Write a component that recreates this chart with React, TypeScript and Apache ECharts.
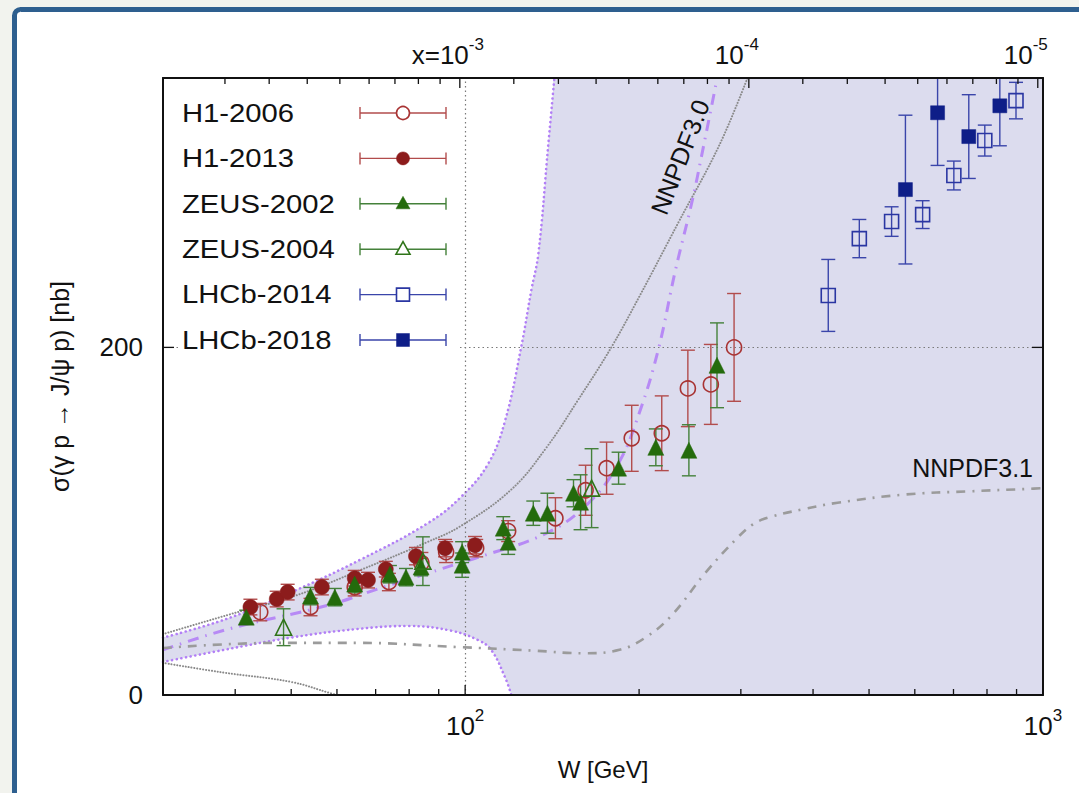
import React, { useEffect, useRef } from 'react';
import * as echarts from 'echarts';

// ---------------- data ----------------
const h1_2006_W = [44.2, 54.0, 64.4, 73.8, 84.0, 92.7, 104.5, 118.7, 143.3, 161.6, 175.7, 194.2, 218.9, 242.9, 266.2, 292.0];
const h1_2006_sigma = [47.7, 50.6, 62.0, 65.0, 76.0, 82.2, 84.5, 94.3, 101.7, 117.8, 130.5, 147.7, 150.6, 176.4, 178.7, 200.0];
const h1_2006_err = [5, 5, 5, 5, 6, 6, 5, 6, 11.8, 14.4, 15, 19, 21.5, 22, 23, 31];

const h1_2013_W = [42.5, 47.2, 49.3, 56.5, 64.4, 67.9, 72.9, 82.2, 92.3, 104.0];
const h1_2013_sigma = [50.6, 55.2, 59.2, 62.1, 67.2, 66.1, 72.4, 79.9, 84.5, 86.2];
const h1_2013_err = [4.5, 4.5, 4.5, 4.5, 4.5, 4.5, 4.5, 5, 5, 5];

const zeus_2002_W = [41.8, 54.0, 59.5, 64.4, 74.1, 79.0, 83.9, 98.8, 98.8, 116.4, 118.7, 131.2, 138.8, 154.0, 158.4, 184.3, 213.8, 243.9, 272.8];
const zeus_2002_sigma = [44.8, 56.9, 56.3, 63.8, 69.5, 67.8, 73.6, 82.2, 74.7, 96.0, 87.9, 104.6, 104.6, 116.1, 110.9, 130.5, 142.5, 140.8, 189.7];
const zeus_2002_err = [4, 5, 5, 5, 5, 5, 5, 6, 7, 6.6, 7, 7, 11.5, 7.8, 15.8, 9.2, 10.6, 14.7, 24.4];

const zeus_2004_W = [48.5, 84.5, 165.5];
const zeus_2004_sigma = [39.0, 77.0, 119.0];
const zeus_2004_err = [10.6, 14.0, 22.7];

const lhcb_2014_W = [425, 481, 547, 619, 701, 793, 898];
const lhcb_2014_sigma = [229.9, 262.6, 272.4, 276.4, 298.9, 319.0, 342.0];
const lhcb_2014_err = [20.7, 11.0, 8.5, 8.0, 8.3, 8.9, 10.5];

const lhcb_2018_W = [578, 657, 744, 842];
const lhcb_2018_sigma = [290.8, 335.0, 321.3, 339.0];
const lhcb_2018_err = [42.8, 30.3, 24.1, 23.0];

// NNPDF3.0 band and central curve
const nnpdf30Upper_W = [30, 38.8, 50.7, 66, 86.3, 98.4, 109.6, 117.3, 125, 130.2, 133.9, 139.3, 142.7];
const nnpdf30Upper_sigma = [33, 44, 60, 78, 99, 114, 133, 158, 200, 233, 254, 317, 355];
const nnpdf30Lower_W = [30, 38.3, 49.9, 65.2, 79.6, 94.6, 105.3, 110.9, 117.3, 120.2];
const nnpdf30Lower_sigma = [19, 26, 33, 38, 39.7, 37, 31.6, 26, 10, 0];
const nnpdf30Central_W = [30, 39, 58, 70.6, 86, 98, 105, 138, 163, 184, 200, 216, 231, 247, 259, 273];
const nnpdf30Central_sigma = [26, 38, 51.7, 61, 70, 76, 79, 93, 110, 133, 162, 199, 244, 284, 317, 355];

// NNPDF3.1 band edges and central curve
const nnpdf31Upper_W = [30, 38.8, 50.7, 66, 86, 98, 120, 138, 157, 179, 200, 234, 275, 308];
const nnpdf31Upper_sigma = [35, 46, 57, 72, 88, 97, 118, 142, 170, 200, 229, 272, 316, 355];
const nnpdf31Lower_W = [30, 38, 50, 58.5, 60];
const nnpdf31Lower_sigma = [18.5, 13, 7.5, 1, 0];
const nnpdf31Central_W = [30, 47, 65, 97, 132, 160, 185, 205, 228, 260, 297, 316, 338, 386, 441, 574, 747, 946, 1000];
const nnpdf31Central_sigma = [27, 30, 30, 27.6, 25.5, 24, 26, 33, 46, 70, 91, 98.5, 102.5, 107, 110.6, 115.3, 117.2, 118.6, 119];

// axes
const X_MIN = 30;
const X_MAX = 1000;
const Y_MIN = 0;
const Y_MAX = 355;
const bottomMajorTicks = [100, 1000];
const bottomMinorTicks = [40, 50, 60, 70, 80, 90, 200, 300, 400, 500, 600, 700, 800, 900];
const topMajorTicks = [97.9, 309.7, 979.4];
const topMinorTicks = [38.4, 45.8, 53.3, 60.7, 68.2, 75.6, 83.0, 90.5, 121.4, 145, 168.5, 192, 215.5, 239, 262.6, 286.2, 384, 458.5, 533, 607, 682, 756, 830.6, 905];
const topTickLabelBase = ['x=10', '10', '10'];
const topTickLabelExp = ['-3', '-4', '-5'];
const yMajorTicks = [0, 200];

// ---------------- styles ----------------
const FONT = '"Liberation Sans", Arial, Helvetica, sans-serif';
const INK = '#111111';
const COL = {
  h1Filled: '#8c1c1c',
  h1Open: '#a83333',
  h1Bar: '#b24c4c',
  zeusFilled: '#246b0c',
  zeusOpen: '#2f7418',
  zeusBar: '#44813a',
  lhcbOpen: '#2a36a2',
  lhcbFilled: '#0e1e88',
  lhcbBar: '#3a45aa',
  band: '#dcdcee',
  bandEdge: '#b27ff6',
  central30: '#b78af5',
  gray31: '#9b9b9b',
  gray31dot: '#8a8a8a',
  grid: '#7a7a7a',
};
const SMOOTH = 0.4;

const datasets = [
  { name: 'H1-2006', W: h1_2006_W, S: h1_2006_sigma, E: h1_2006_err, symbol: 'circle', size: 15, filled: false, color: COL.h1Open, bar: COL.h1Bar },
  { name: 'H1-2013', W: h1_2013_W, S: h1_2013_sigma, E: h1_2013_err, symbol: 'circle', size: 15, filled: true, color: COL.h1Filled, bar: COL.h1Bar },
  { name: 'ZEUS-2002', W: zeus_2002_W, S: zeus_2002_sigma, E: zeus_2002_err, symbol: 'triangle', size: 16, filled: true, color: COL.zeusFilled, bar: COL.zeusBar },
  { name: 'ZEUS-2004', W: zeus_2004_W, S: zeus_2004_sigma, E: zeus_2004_err, symbol: 'triangle', size: 16, filled: false, color: COL.zeusOpen, bar: COL.zeusBar },
  { name: 'LHCb-2014', W: lhcb_2014_W, S: lhcb_2014_sigma, E: lhcb_2014_err, symbol: 'rect', size: 14, filled: false, color: COL.lhcbOpen, bar: COL.lhcbBar },
  { name: 'LHCb-2018', W: lhcb_2018_W, S: lhcb_2018_sigma, E: lhcb_2018_err, symbol: 'rect', size: 14, filled: true, color: COL.lhcbFilled, bar: COL.lhcbBar },
];

const zip = (a: number[], b: number[]) => a.map((v, i) => [v, b[i]]);

const supRich = {
  b: { fontSize: 26, fontFamily: FONT, color: INK, fill: INK, lineHeight: 32, verticalAlign: 'bottom' },
  s: { fontSize: 17, fontFamily: FONT, color: INK, fill: INK, verticalAlign: 'top' },
};

function lineSeries(name: string, W: number[], S: number[], color: string, width: number, dash: any, cap: string, z: number, extra: any = {}) {
  return {
    type: 'line',
    name,
    data: zip(W, S),
    smooth: SMOOTH,
    showSymbol: false,
    symbol: 'none',
    silent: true,
    z,
    lineStyle: { color, width, type: dash, cap },
    ...extra,
  };
}

function buildOption() {
  const series: any[] = [];

  // band fill (lavender under upper edge, full height beyond it, white under lower edge)
  series.push({
    type: 'line', name: 'NNPDF3.0 band', data: zip(nnpdf30Upper_W, nnpdf30Upper_sigma), smooth: SMOOTH,
    showSymbol: false, symbol: 'none', silent: true, z: 1,
    lineStyle: { width: 0, color: COL.band }, areaStyle: { color: COL.band, opacity: 1, origin: 'start' },
  });
  // slight overlap (0.5%) with the curve fill so no anti-aliasing seam shows
  series.push({
    type: 'line', name: 'NNPDF3.0 band top', data: [[nnpdf30Upper_W[nnpdf30Upper_W.length - 1] * 0.995, Y_MAX], [X_MAX, Y_MAX]],
    showSymbol: false, symbol: 'none', silent: true, z: 1,
    lineStyle: { width: 0, color: COL.band }, areaStyle: { color: COL.band, opacity: 1, origin: 'start' },
  });
  series.push({
    type: 'line', name: 'NNPDF3.0 band low', data: zip(nnpdf30Lower_W, nnpdf30Lower_sigma), smooth: SMOOTH,
    showSymbol: false, symbol: 'none', silent: true, z: 2,
    lineStyle: { width: 0, color: '#ffffff' }, areaStyle: { color: '#ffffff', opacity: 1, origin: 'start' },
  });

  // band edges
  series.push(lineSeries('NNPDF3.0 upper', nnpdf30Upper_W, nnpdf30Upper_sigma, COL.bandEdge, 2.6, [0.1, 4.6], 'round', 3));
  series.push(lineSeries('NNPDF3.0 lower', nnpdf30Lower_W, nnpdf30Lower_sigma, COL.bandEdge, 2.6, [0.1, 4.6], 'round', 3));
  series.push(lineSeries('NNPDF3.1 upper', nnpdf31Upper_W, nnpdf31Upper_sigma, COL.gray31dot, 2, [0.1, 2.8], 'round', 3));
  series.push(lineSeries('NNPDF3.1 lower', nnpdf31Lower_W, nnpdf31Lower_sigma, COL.gray31dot, 2, [0.1, 2.8], 'round', 3));

  // central curves
  series.push(lineSeries('NNPDF3.0', nnpdf30Central_W, nnpdf30Central_sigma, COL.central30, 3, [11, 7, 1.5, 7], 'butt', 4));
  series.push(lineSeries('NNPDF3.1', nnpdf31Central_W, nnpdf31Central_sigma, COL.gray31, 2.6, [9, 7, 2, 7], 'butt', 4, {
    markLine: {
      silent: true,
      symbol: ['none', 'none'],
      label: { show: false },
      lineStyle: { color: COL.grid, width: 1.2, type: [1.5, 3] },
      data: [{ xAxis: bottomMajorTicks[0] }, { yAxis: yMajorTicks[1] }],
    },
  }));

  // error bars
  datasets.forEach((d) => {
    series.push({
      type: 'custom',
      name: d.name + ' errors',
      clip: true,
      silent: true,
      z: 5,
      data: d.W.map((w, i) => [w, d.S[i], d.E[i]]),
      renderItem: (params: any, api: any) => {
        const w = api.value(0);
        const s = api.value(1);
        const e = api.value(2);
        const hi = api.coord([w, s + e]);
        const lo = api.coord([w, Math.max(s - e, Y_MIN)]);
        const cw = 7;
        const st = { stroke: d.bar, lineWidth: 1.4, fill: 'none' };
        return {
          type: 'group',
          children: [
            { type: 'line', shape: { x1: hi[0], y1: hi[1], x2: lo[0], y2: lo[1] }, style: st },
            { type: 'line', shape: { x1: hi[0] - cw, y1: hi[1], x2: hi[0] + cw, y2: hi[1] }, style: st },
            { type: 'line', shape: { x1: lo[0] - cw, y1: lo[1], x2: lo[0] + cw, y2: lo[1] }, style: st },
          ],
        };
      },
    });
  });

  // markers
  datasets.forEach((d) => {
    series.push({
      type: 'scatter',
      name: d.name,
      data: zip(d.W, d.S),
      symbol: d.symbol,
      symbolSize: d.size,
      silent: true,
      z: 6,
      itemStyle: {
        color: d.filled ? d.color : 'rgba(0,0,0,0)',
        borderColor: d.color,
        borderWidth: d.filled ? 0.5 : 1.6,
        opacity: 1,
      },
    });
  });

  // axis ticks (x bottom & top)
  const tickData: number[][] = [
    ...bottomMajorTicks.map((w) => [w, Y_MIN, 0]),
    ...bottomMinorTicks.map((w) => [w, Y_MIN, 1]),
    ...topMajorTicks.map((w) => [w, Y_MAX, 2]),
    ...topMinorTicks.map((w) => [w, Y_MAX, 3]),
  ];
  series.push({
    type: 'custom', name: 'xticks', silent: true, clip: false, z: 21,
    data: tickData,
    renderItem: (params: any, api: any) => {
      const w = api.value(0);
      const kind = api.value(2);
      const st = { stroke: INK, lineWidth: 1.3 };
      if (kind < 2) {
        const p = api.coord([w, Y_MIN]);
        const len = kind === 0 ? 10 : 6;
        return { type: 'line', shape: { x1: p[0], y1: p[1], x2: p[0], y2: p[1] - len }, style: st };
      }
      const p = api.coord([w, Y_MAX]);
      const len = kind === 2 ? 10 : 6;
      return { type: 'line', shape: { x1: p[0], y1: p[1], x2: p[0], y2: p[1] + len }, style: st };
    },
  });

  // y ticks (left & right)
  series.push({
    type: 'custom', name: 'yticks', silent: true, clip: false, z: 21,
    data: yMajorTicks.map((v) => [X_MIN, v]),
    renderItem: (params: any, api: any) => {
      const v = api.value(1);
      const l = api.coord([X_MIN, v]);
      const r = api.coord([X_MAX, v]);
      const st = { stroke: INK, lineWidth: 1.3 };
      return {
        type: 'group',
        children: [
          { type: 'line', shape: { x1: l[0], y1: l[1], x2: l[0] + 11, y2: l[1] }, style: st },
          { type: 'line', shape: { x1: r[0], y1: r[1], x2: r[0] - 11, y2: r[1] }, style: st },
        ],
      };
    },
  });

  // top axis labels (x = 10^-n)
  series.push({
    type: 'custom', name: 'x2labels', silent: true, clip: false, z: 21,
    data: topMajorTicks.map((w, i) => [w, Y_MAX, i]),
    renderItem: (params: any, api: any) => {
      const w = api.value(0);
      const i = api.value(2);
      const p = api.coord([w, Y_MAX]);
      return {
        type: 'text',
        x: p[0] - 12,
        y: p[1] - 10,
        style: {
          text: `{b|${topTickLabelBase[i]}}{s|${topTickLabelExp[i]}}`,
          rich: supRich,
          align: 'center',
          verticalAlign: 'bottom',
          fill: INK,
          fontFamily: FONT,
        },
      };
    },
  });

  // ---------- graphics: frame, legend, curve labels ----------
  const graphics: any[] = [];
  graphics.push({
    type: 'rect', z: -100, silent: true,
    shape: { x: 14.5, y: 9.5, width: 1100, height: 820, r: 6 },
    style: { fill: '#ffffff', stroke: '#2e5f8f', lineWidth: 5 },
  });
  graphics.push({
    type: 'rect', z: 50, silent: true,
    shape: { x: 178, y: 88, width: 280, height: 274 },
    style: { fill: '#ffffff' },
  });
  const legendTop = 113;
  const legendStep = 45.4;
  const sx1 = 360;
  const sx2 = 446;
  const sxm = 403;
  datasets.forEach((d, i) => {
    const y = legendTop + i * legendStep;
    graphics.push({
      type: 'text', z: 51, silent: true, x: 182, y, scaleX: 1.17,
      style: { text: d.name, fontSize: 25, fontFamily: FONT, fill: INK, textVerticalAlign: 'middle', verticalAlign: 'middle', textAlign: 'left', align: 'left' },
    });
    const st = { stroke: d.bar, lineWidth: 1.4 };
    graphics.push({ type: 'line', z: 51, silent: true, shape: { x1: sx1, y1: y, x2: sx2, y2: y }, style: st });
    graphics.push({ type: 'line', z: 51, silent: true, shape: { x1: sx1, y1: y - 6, x2: sx1, y2: y + 6 }, style: st });
    graphics.push({ type: 'line', z: 51, silent: true, shape: { x1: sx2, y1: y - 6, x2: sx2, y2: y + 6 }, style: st });
    const mstyle = d.filled
      ? { fill: d.color, stroke: d.color, lineWidth: 0.5 }
      : { fill: '#ffffff', stroke: d.color, lineWidth: 1.6 };
    if (d.symbol === 'circle') {
      graphics.push({ type: 'circle', z: 52, silent: true, shape: { cx: sxm, cy: y, r: 6.5 }, style: mstyle });
    } else if (d.symbol === 'triangle') {
      graphics.push({ type: 'polygon', z: 52, silent: true, shape: { points: [[sxm, y - 7.5], [sxm - 7, y + 5], [sxm + 7, y + 5]] }, style: mstyle });
    } else {
      graphics.push({ type: 'rect', z: 52, silent: true, shape: { x: sxm - 6.5, y: y - 6.5, width: 13, height: 13 }, style: mstyle });
    }
  });
  graphics.push({
    type: 'text', z: 30, silent: true, x: 680, y: 157, rotation: (68.7 * Math.PI) / 180,
    style: { text: 'NNPDF3.0', fontSize: 25, fontFamily: FONT, fill: INK, textAlign: 'center', align: 'center', textVerticalAlign: 'middle', verticalAlign: 'middle' },
  });
  graphics.push({
    type: 'text', z: 30, silent: true, x: 1033, y: 468,
    style: { text: 'NNPDF3.1', fontSize: 25, fontFamily: FONT, fill: INK, textAlign: 'right', align: 'right', textVerticalAlign: 'middle', verticalAlign: 'middle' },
  });

  const axisLine = { show: true, onZero: false, lineStyle: { color: INK, width: 2 } };

  return {
    animation: false,
    backgroundColor: 'transparent',
    textStyle: { fontFamily: FONT },
    grid: { left: 163, right: 36, top: 78, bottom: 98, containLabel: false, outerBoundsMode: 'none' },
    xAxis: [
      {
        type: 'log', logBase: 10, min: X_MIN, max: X_MAX, position: 'bottom', z: 20,
        axisLine, axisTick: { show: false }, minorTick: { show: false }, splitLine: { show: false },
        axisLabel: {
          show: true, margin: 12, color: INK, showMinLabel: false, showMaxLabel: true,
          formatter: (v: number) => {
            const e = Math.log10(v);
            if (Math.abs(e - Math.round(e)) > 1e-6) return '';
            return `{b|10}{s|${Math.round(e)}}`;
          },
          rich: supRich,
        },
        name: 'W [GeV]', nameLocation: 'middle', nameGap: 62,
        nameTextStyle: { fontSize: 24, color: INK, fontFamily: FONT },
      },
      {
        type: 'log', logBase: 10, min: X_MIN, max: X_MAX, position: 'top', z: 20,
        axisLine, axisTick: { show: false }, axisLabel: { show: false }, splitLine: { show: false },
      },
    ],
    yAxis: [
      {
        type: 'value', min: Y_MIN, max: Y_MAX, interval: 200, position: 'left', z: 20,
        axisLine, axisTick: { show: false }, splitLine: { show: false },
        axisLabel: {
          margin: 20, fontSize: 26, color: INK, fontFamily: FONT,
          formatter: (v: number) => (yMajorTicks.indexOf(v) >= 0 ? String(v) : ''),
        },
        name: 'σ(γ p → J/ψ p) [nb]', nameLocation: 'middle', nameRotate: 90, nameGap: 91,
        nameTextStyle: { fontSize: 25, color: INK, fontFamily: FONT },
      },
      {
        type: 'value', min: Y_MIN, max: Y_MAX, position: 'right', z: 20,
        axisLine, axisTick: { show: false }, axisLabel: { show: false }, splitLine: { show: false },
      },
    ],
    series,
    graphic: graphics,
  };
}

export default function App() {
  const ref = useRef<HTMLDivElement>(null);
  useEffect(() => {
    if (!ref.current) return;
    const chart = echarts.init(ref.current, null, { renderer: 'svg' });
    chart.setOption(buildOption() as any);
    return () => chart.dispose();
  }, []);
  return (
    <div
      ref={ref}
      style={{ position: 'fixed', left: 0, top: 0, width: 1079, height: 793, background: '#f2f3ee' }}
    />
  );
}
